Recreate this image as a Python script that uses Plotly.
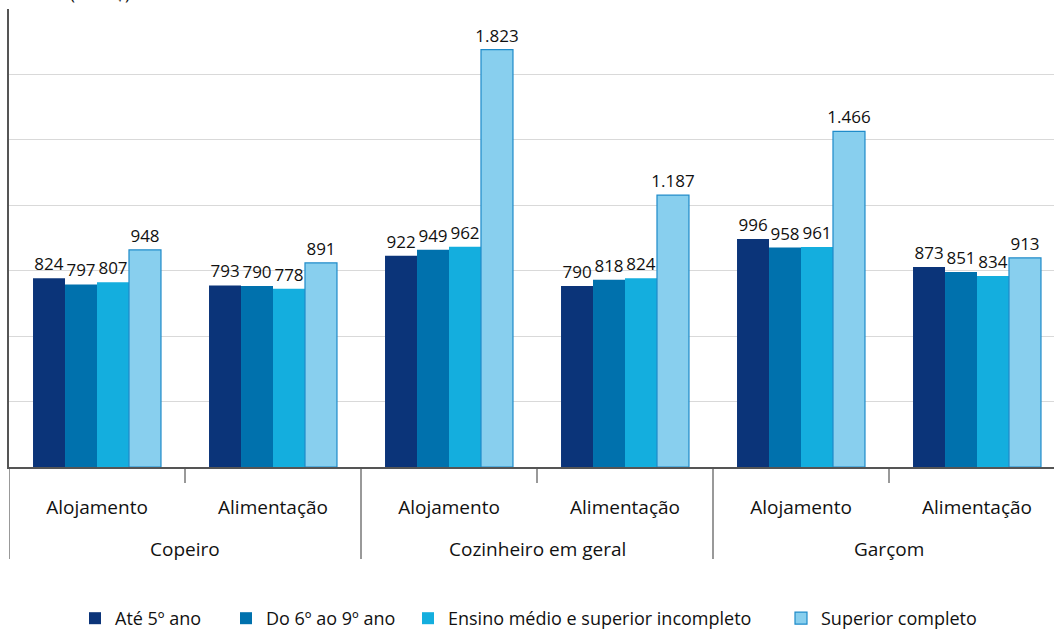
import plotly.graph_objects as go

groups = ["Copeiro", "Cozinheiro em geral", "Garçom"]
sectors = ["Alojamento", "Alimentação", "Alojamento", "Alimentação", "Alojamento", "Alimentação"]

series_names = ["Até 5º ano", "Do 6º ao 9º ano", "Ensino médio e superior incompleto", "Superior completo"]
ate5 = [824, 793, 922, 790, 996, 873]
do6ao9 = [797, 790, 949, 818, 958, 851]
medio = [807, 778, 962, 824, 961, 834]
superior = [948, 891, 1823, 1187, 1466, 913]

colors = ["#0B3479", "#0071AD", "#14AEDE", "#88CFEE"]
line_colors = ["#0B3479", "#0071AD", "#14AEDE", "#1E8BC9"]
line_widths = [0, 0, 0, 1.2]

FONT = "Open Sans"
L, B, T = 9, 163.3, 9.3
W, H = 1054, 630
PW = W - L
PH = H - T - B

xpos = list(range(len(sectors)))
n_sub = len(sectors) // len(groups)

# legend left edges (pixels) -> paper coordinates
legend_px = [75, 226, 408, 781]
legend_keys = ["legend", "legend2", "legend3", "legend4"]

fig = go.Figure()
for i, (name, vals, c, lc, lw) in enumerate(zip(series_names, [ate5, do6ao9, medio, superior], colors, line_colors, line_widths)):
    fig.add_trace(go.Bar(
        x=xpos, y=vals, name=name, legend=legend_keys[i],
        marker=dict(color=c, line=dict(color=lc, width=lw)),
        texttemplate="%{y:,.0f}", textposition="outside",
        textfont=dict(family=FONT, size=17, color="#111"),
        constraintext="none", cliponaxis=False,
    ))

def py(pix_below_bottom):
    return -pix_below_bottom / PH

shapes = []
# short ticks between sectors within a group
for g in range(len(groups)):
    for k in range(1, n_sub):
        shapes.append(dict(type="line", xref="x", yref="paper",
                           x0=g * n_sub + k - 0.5, x1=g * n_sub + k - 0.5,
                           y0=0, y1=py(16), line=dict(color="#555", width=1.2)))
# long dividers between groups
for g in range(len(groups) + 1):
    xb = g * n_sub - 0.5
    shapes.append(dict(type="line", xref="x", yref="paper", x0=xb, x1=xb,
                       y0=0, y1=py(92), line=dict(color="#555", width=1.2)))

annotations = []
for g, gname in enumerate(groups):
    annotations.append(dict(text=gname, xref="x", yref="paper",
                            x=g * n_sub + (n_sub - 1) / 2, y=py(82),
                            xanchor="center", yanchor="middle", showarrow=False,
                            font=dict(family=FONT, size=19, color="#111")))
annotations.append(dict(text="(em R$)", xref="paper", yref="paper", x=(100 - L) / PW, y=1 + 2 / PH,
                        xanchor="center", yanchor="bottom", showarrow=False,
                        font=dict(family=FONT, size=17, color="#111")))

layout_legends = {}
for key, px in zip(legend_keys, legend_px):
    layout_legends[key] = dict(orientation="h", x=(px - L) / PW, xanchor="left",
                               y=py(618 - (H - B)), yanchor="middle",
                               font=dict(family=FONT, size=18, color="#111"),
                               bgcolor="rgba(0,0,0,0)")

fig.update_layout(
    width=W, height=H,
    margin=dict(l=L, r=0, t=T, b=B, autoexpand=False),
    paper_bgcolor="white", plot_bgcolor="white",
    separators=",.",
    barmode="group", bargap=0.273, bargroupgap=0,
    font=dict(family=FONT, size=17, color="#111"),
    showlegend=True,
    xaxis=dict(range=[-0.5, -0.5 + PW / 176], tickvals=xpos, ticktext=sectors,
               showline=True, linecolor="#555", linewidth=1.5, ticks="",
               ticklabelstandoff=22, automargin=False,
               tickfont=dict(family=FONT, size=19, color="#111"), showgrid=False, zeroline=False),
    yaxis=dict(range=[0, 2000], tick0=0, dtick=2000 / 7, showticklabels=False,
               showgrid=True, gridcolor="#D9D9D9", gridwidth=1, automargin=False,
               showline=True, linecolor="#555", linewidth=1.5, zeroline=False, ticks=""),
    shapes=shapes,
    annotations=annotations,
    **layout_legends,
)

fig.write_html("out.html", config={"displayModeBar": False},
               post_script="document.body.style.margin='0px';document.body.style.overflow='hidden';")
